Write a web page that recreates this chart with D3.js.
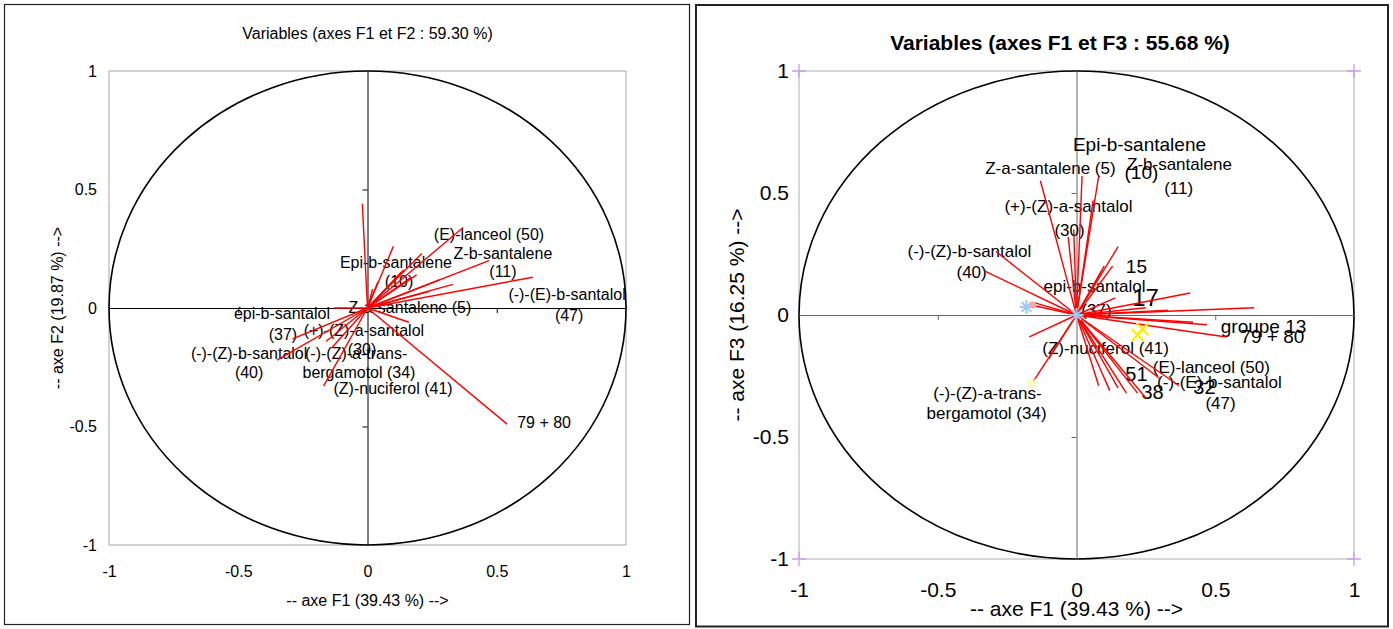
<!DOCTYPE html>
<html><head><meta charset="utf-8">
<script src="https://cdn.jsdelivr.net/npm/d3@7"></script>
<style>body{margin:0;background:#fff}svg{display:block}</style>
</head><body>
<svg id="c" width="1393" height="629"></svg>
<script>
// ---------- DATA ----------
const tickValues = [-1, -0.5, 0, 0.5, 1];
const tickLabels = ["-1", "-0.5", "0", "0.5", "1"];

// Panel 1 : axes F1 / F2
const p1Title = "Variables (axes F1 et F2 : 59.30 %)";
const p1XTitle = "-- axe F1 (39.43 %) -->";
const p1YTitle = "-- axe F2 (19.87 %) -->";
const p1F1 = [-0.02, 0.10, 0.37, 0.47, 0.64, 0.33, 0.54, 0.21, 0.14, 0.17, 0.24, 0.19, 0.28, -0.29, -0.35, -0.16, -0.17, -0.13, 0.16, 0.02, 0.04, 0.13, -0.14];
const p1F2 = [0.44, 0.26, 0.34, 0.20, 0.13, 0.10, -0.49, 0.23, 0.16, 0.13, 0.07, 0.14, 0.12, -0.13, -0.22, -0.14, -0.33, 0.00, -0.06, 0.08, 0.11, 0.15, -0.17];
const p1Labels = ["(E)-lanceol (50)", "Z-b-santalene", "(11)", "Epi-b-santalene", "(10)", "(-)-(E)-b-santalol", "(47)", "Z-a-santalene (5)", "épi-b-santalol", "(37)", "(+)-(Z)-a-santalol", "(30)", "(-)-(Z)-b-santalol", "(40)", "(-)-(Z)-a-trans-", "bergamotol (34)", "(Z)-nuciferol (41)", "79 + 80"];
const p1LabelF1 = [0.470, 0.524, 0.524, 0.110, 0.122, 0.772, 0.780, 0.164, -0.331, -0.327, -0.014, -0.021, -0.458, -0.458, -0.044, -0.033, 0.099, 0.683];
const p1LabelF2 = [0.312, 0.232, 0.152, 0.190, 0.110, 0.055, -0.030, 0.004, -0.025, -0.110, -0.097, -0.173, -0.190, -0.274, -0.194, -0.274, -0.338, -0.485];

// Panel 2 : axes F1 / F3
const p2Title = "Variables (axes F1 et F3 : 55.68 %)";
const p2XTitle = "-- axe F1 (39.43 %) -->";
const p2YTitle = "-- axe F3 (16.25 %) -->";
const p2F1 = [-0.13, 0.02, 0.08, -0.03, -0.01, 0.06, 0.15, 0.13, 0.10, 0.14, 0.41, 0.64, 0.47, 0.54, -0.29, -0.33, -0.16, -0.17, -0.16, -0.10, 0.37, 0.18, 0.22, 0.25, 0.42, 0.30, -0.15, 0.09, 0.33, 0.08, 0.12, 0.15, 0.25];
const p2F3 = [0.55, 0.57, 0.57, 0.32, 0.35, 0.47, 0.28, 0.20, 0.20, 0.07, 0.09, 0.03, -0.04, -0.09, 0.26, 0.18, 0.04, -0.09, -0.28, -0.18, -0.29, -0.32, -0.32, -0.34, -0.03, -0.26, 0.05, 0.18, 0.02, -0.29, -0.31, -0.30, 0.03];
const p2Labels = ["Epi-b-santalene", "Z-a-santalene (5)", "(10)", "Z-b-santalene", "(11)", "(+)-(Z)-a-santalol", "(30)", "(-)-(Z)-b-santalol", "(40)", "15", "epi-b-santalol", "17", "(37)", "groupe 13", "79 + 80", "(Z)-nuciferol (41)", "51", "(E)-lanceol (50)", "(-)-(E)-b-santalol", "32", "38", "(47)", "(-)-(Z)-a-trans-", "bergamotol (34)"];
const p2LabelF1 = [0.227, -0.094, 0.234, 0.371, 0.368, -0.029, -0.025, -0.386, -0.378, 0.216, 0.065, 0.249, 0.072, 0.674, 0.706, 0.105, 0.216, 0.486, 0.515, 0.461, 0.274, 0.519, -0.321, -0.324];
const p2LabelF3 = [0.697, 0.602, 0.582, 0.615, 0.520, 0.443, 0.348, 0.262, 0.176, 0.197, 0.115, 0.070, 0.020, -0.049, -0.090, -0.139, -0.242, -0.217, -0.275, -0.295, -0.316, -0.361, -0.320, -0.402];

// observation markers on panel 2
const p2AsteriskF1 = [0, -0.18];
const p2AsteriskF3 = [0, 0.033];
const p2PaleAsteriskF1 = [-0.16];
const p2PaleAsteriskF3 = [-0.28];
const p2DotF1 = [-0.158];
const p2DotF3 = [0.041];
const p2CrossF1 = [0.22, 0.238];
const p2CrossF3 = [-0.082, -0.057];

// ---------- DRAW ----------
const svg = d3.select("#c");
svg.append("rect").attr("width", 1393).attr("height", 629).attr("fill", "#fff");
const FONT = "'Liberation Sans', Arial, sans-serif";

function drawPanel(o) {
  const x = d3.scaleLinear().domain([-1, 1]).range([o.x0, o.x1]);
  const y = d3.scaleLinear().domain([-1, 1]).range([o.y1, o.y0]);
  const g = svg.append("g");

  // frame
  g.append("rect").attr("x", o.frame[0]).attr("y", o.frame[1])
    .attr("width", o.frame[2] - o.frame[0]).attr("height", o.frame[3] - o.frame[1])
    .attr("fill", "none").attr("stroke", "#222").attr("stroke-width", o.frameW);

  // plot area border
  g.append("rect").attr("x", x(-1)).attr("y", y(1))
    .attr("width", x(1) - x(-1)).attr("height", y(-1) - y(1))
    .attr("fill", "none").attr("stroke", o.borderColor).attr("stroke-width", 1);

  // corner markers
  if (o.corners) {
    const pts = [[-1, 1], [1, 1], [-1, -1], [1, -1]];
    g.selectAll(".corner").data(pts).join("path")
      .attr("d", d => `M${x(d[0]) - 7},${y(d[1])}h14M${x(d[0])},${y(d[1]) - 7}v14`)
      .attr("stroke", "#c59cf5").attr("stroke-width", 1.3).attr("fill", "none");
  }

  // circle
  g.append("ellipse").attr("cx", x(0)).attr("cy", y(0))
    .attr("rx", x(1) - x(0)).attr("ry", y(0) - y(1))
    .attr("fill", "none").attr("stroke", "#000").attr("stroke-width", 1.6);

  // center axes
  const ax = g.append("g").attr("transform", `translate(0,${y(0)})`)
    .call(d3.axisBottom(x).tickValues([-0.5, 0.5]).tickFormat("").tickSize(5).tickSizeOuter(0));
  const ay = g.append("g").attr("transform", `translate(${x(0)},0)`)
    .call(d3.axisLeft(y).tickValues([-0.5, 0.5]).tickFormat("").tickSize(5).tickSizeOuter(0));
  [ax, ay].forEach(a => a.selectAll("path,line").attr("stroke", o.axisColor).attr("stroke-width", 1));

  // tick labels
  const bx = g.append("g").attr("transform", `translate(0,${o.xTickY})`)
    .call(d3.axisBottom(x).tickValues(tickValues).tickFormat((d, i) => tickLabels[i]).tickSize(0).tickPadding(0));
  bx.select(".domain").remove();
  bx.selectAll("text").attr("font-family", FONT).attr("font-size", o.tickSize).attr("fill", "#000")
    .attr("dy", "0.35em");
  const by = g.append("g").attr("transform", `translate(${o.yTickX},0)`)
    .call(d3.axisLeft(y).tickValues(tickValues).tickFormat((d, i) => tickLabels[i]).tickSize(0).tickPadding(0));
  by.select(".domain").remove();
  by.selectAll("text").attr("font-family", FONT).attr("font-size", o.tickSize).attr("fill", "#000");

  // titles
  g.append("text").attr("x", o.titleX).attr("y", o.titleY).attr("text-anchor", "middle")
    .attr("dominant-baseline", "central").attr("font-family", FONT)
    .attr("font-size", o.titleSize).attr("font-weight", o.titleWeight).text(o.title);
  g.append("text").attr("x", x(0)).attr("y", o.xTitleY).attr("text-anchor", "middle")
    .attr("dominant-baseline", "central").attr("font-family", FONT)
    .attr("font-size", o.axisTitleSize).text(o.xTitle);
  g.append("text").attr("transform", `translate(${o.yTitleX},${y(0)}) rotate(-90)`)
    .attr("text-anchor", "middle").attr("dominant-baseline", "central").attr("font-family", FONT)
    .attr("font-size", o.axisTitleSize).text(o.yTitle);

  // labels
  g.selectAll(".lab").data(o.labels).join("text")
    .attr("x", (d, i) => x(o.labelX[i])).attr("y", (d, i) => y(o.labelY[i]))
    .attr("text-anchor", "middle").attr("dominant-baseline", "central")
    .attr("font-family", FONT)
    .attr("font-size", d => (o.labelSizes[d] || o.labelSize))
    .attr("fill", "#000").text(d => d);

  // vectors
  g.selectAll(".vec").data(o.vx).join("line")
    .attr("x1", x(0)).attr("y1", y(0))
    .attr("x2", (d, i) => x(d)).attr("y2", (d, i) => y(o.vy[i]))
    .attr("stroke", "#ff0000").attr("stroke-width", 1.4);

  return { x, y, g };
}

drawPanel({
  frame: [4.5, 4.5, 689.5, 624.5], frameW: 1.2,
  x0: 109, x1: 626, y0: 71, y1: 545,
  borderColor: "#a6a6a6", axisColor: "#000", corners: false,
  xTickY: 571, yTickX: 97, tickSize: 16,
  title: p1Title, titleX: 367.5, titleY: 33, titleSize: 16, titleWeight: "normal",
  xTitle: p1XTitle, xTitleY: 600, yTitle: p1YTitle, yTitleX: 57, axisTitleSize: 16,
  labels: p1Labels, labelX: p1LabelF1, labelY: p1LabelF2, labelSize: 16, labelSizes: {},
  vx: p1F1, vy: p1F2
});

const p2 = drawPanel({
  frame: [696, 5, 1388, 626.5], frameW: 2,
  x0: 799, x1: 1354, y0: 71, y1: 559,
  borderColor: "#b0b0b0", axisColor: "#666", corners: true,
  xTickY: 590, yTickX: 789, tickSize: 21,
  title: p2Title, titleX: 1060, titleY: 42, titleSize: 21, titleWeight: "bold",
  xTitle: p2XTitle, xTitleY: 608, yTitle: p2YTitle, yTitleX: 736, axisTitleSize: 21,
  labels: p2Labels, labelX: p2LabelF1, labelY: p2LabelF3, labelSize: 17,
  labelSizes: { "Epi-b-santalene": 19, "(10)": 19, "15": 19, "17": 24, "groupe 13": 19, "79 + 80": 19, "51": 20, "32": 20, "38": 20 },
  vx: p2F1, vy: p2F3
});

// observation markers (panel 2)
function asterisk(sel, px, py, col, r) {
  sel.append("path")
    .attr("d", `M${px - r},${py}h${2 * r}M${px},${py - r}v${2 * r}M${px - r * 0.7},${py - r * 0.7}l${1.4 * r},${1.4 * r}M${px - r * 0.7},${py + r * 0.7}l${1.4 * r},${-1.4 * r}`)
    .attr("stroke", col).attr("stroke-width", 2).attr("fill", "none");
}
p2AsteriskF1.forEach((v, i) => asterisk(p2.g, p2.x(v), p2.y(p2AsteriskF3[i]), "#9fcaf5", 7));
p2PaleAsteriskF1.forEach((v, i) => asterisk(p2.g, p2.x(v), p2.y(p2PaleAsteriskF3[i]), "#fdf7c0", 6));
p2.g.selectAll(".dot").data(p2DotF1).join("circle")
  .attr("cx", d => p2.x(d)).attr("cy", (d, i) => p2.y(p2DotF3[i])).attr("r", 3.5).attr("fill", "#f7a7a7");
p2.g.selectAll(".xm").data(p2CrossF1).join("path")
  .attr("d", (d, i) => { const px = p2.x(d), py = p2.y(p2CrossF3[i]); return `M${px - 6},${py - 6}l12,12M${px - 6},${py + 6}l12,-12`; })
  .attr("stroke", "#ffee00").attr("stroke-width", 2.2).attr("fill", "none");
</script>
</body></html>
